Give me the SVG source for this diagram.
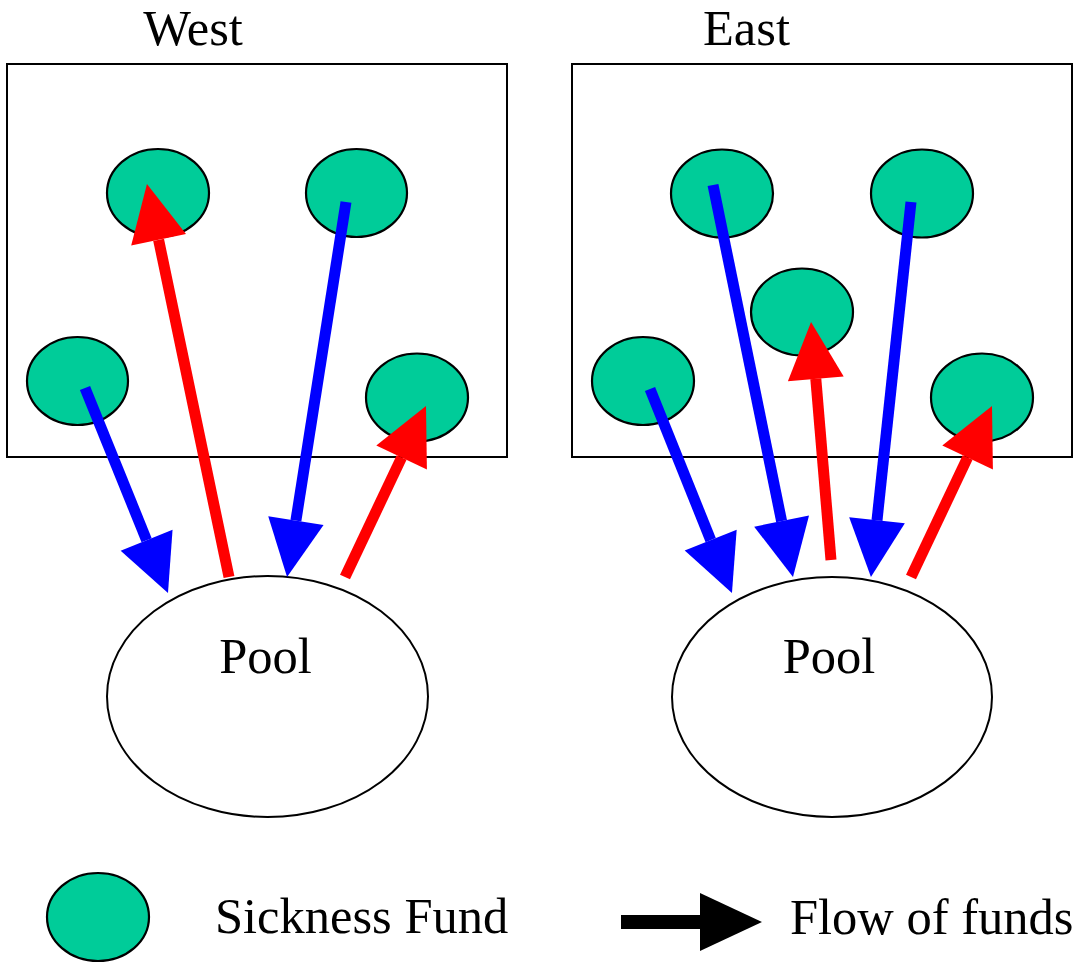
<svg xmlns="http://www.w3.org/2000/svg" width="1078" height="964" viewBox="0 0 1078 964">
<style>
.region{fill:#fff;stroke:#000;stroke-width:2}
.fund{fill:#00cc99;stroke:#000;stroke-width:2.2}
.pool{fill:#fff;stroke:#000;stroke-width:2}
.lbl{font-family:"Liberation Serif","Times New Roman",serif;font-size:50.5px;fill:#000}
.blue{stroke:#0000ff;stroke-width:11;fill:none;marker-end:url(#hb)}
.red{stroke:#ff0000;stroke-width:11;fill:none;marker-end:url(#hr)}
</style>
<defs>
<marker id="hb" markerUnits="userSpaceOnUse" viewBox="0 -30 60 60" markerWidth="60" markerHeight="60" refX="0" refY="0" orient="auto" overflow="visible">
<path d="M0,-28 L57,0 L0,28 Z" fill="#0000ff"/>
</marker>
<marker id="hr" markerUnits="userSpaceOnUse" viewBox="0 -30 60 60" markerWidth="60" markerHeight="60" refX="0" refY="0" orient="auto" overflow="visible">
<path d="M0,-28 L57,0 L0,28 Z" fill="#ff0000"/>
</marker>
</defs>
<rect width="1078" height="964" fill="#fff"/>

<g id="west">
<rect class="region" x="7" y="64" width="500" height="393"/>
<text class="lbl" x="193" y="45" text-anchor="middle">West</text>
</g>
<g id="east">
<rect class="region" x="572" y="64" width="500" height="393"/>
<text class="lbl" x="746.5" y="45" text-anchor="middle">East</text>
</g>

<g id="west-fund-1"><ellipse class="fund" cx="158" cy="193" rx="51" ry="44"/></g>
<g id="west-fund-2"><ellipse class="fund" cx="356.5" cy="193" rx="50.5" ry="44"/></g>
<g id="west-fund-3"><ellipse class="fund" cx="77.5" cy="381" rx="50.5" ry="44"/></g>
<g id="west-fund-4"><ellipse class="fund" cx="417" cy="397.5" rx="51" ry="44"/></g>

<g id="east-fund-1"><ellipse class="fund" cx="722" cy="193.5" rx="51" ry="44"/></g>
<g id="east-fund-2"><ellipse class="fund" cx="922" cy="193.5" rx="51" ry="44"/></g>
<g id="east-fund-3"><ellipse class="fund" cx="802" cy="312" rx="51" ry="43.5"/></g>
<g id="east-fund-4"><ellipse class="fund" cx="643" cy="381" rx="51" ry="44"/></g>
<g id="east-fund-5"><ellipse class="fund" cx="982" cy="397.5" rx="51" ry="44"/></g>

<g id="west-pool">
<ellipse class="pool" cx="267.5" cy="696.5" rx="160.5" ry="120.5"/>
<text class="lbl" x="265.5" y="673" text-anchor="middle">Pool</text>
</g>
<g id="east-pool">
<ellipse class="pool" cx="832" cy="697" rx="160" ry="120"/>
<text class="lbl" x="829" y="673" text-anchor="middle">Pool</text>
</g>

<g id="connectors">
<line class="blue" x1="85" y1="388" x2="146.6" y2="540.2"/>
<line class="red" x1="229" y1="577" x2="158.6" y2="239.8"/>
<line class="blue" x1="346" y1="202" x2="295.9" y2="520.7"/>
<line class="red" x1="345" y1="577" x2="401.6" y2="457.5"/>

<line class="blue" x1="650" y1="389" x2="710.7" y2="540.1"/>
<line class="blue" x1="713" y1="185" x2="781.6" y2="521.1"/>
<line class="red" x1="831" y1="560" x2="815.8" y2="378.8"/>
<line class="blue" x1="911" y1="202" x2="877" y2="520.3"/>
<line class="red" x1="911" y1="577" x2="967.6" y2="457.5"/>
</g>

<g id="legend-fund">
<ellipse class="fund" cx="98" cy="917" rx="51" ry="44"/>
<text class="lbl" x="215" y="933">Sickness Fund</text>
</g>
<g id="legend-flow">
<line x1="621" y1="922" x2="702" y2="922" stroke="#000" stroke-width="14"/>
<polygon points="700,893 762,922 700,951" fill="#000"/>
<text class="lbl" x="790" y="934">Flow of funds</text>
</g>
</svg>
